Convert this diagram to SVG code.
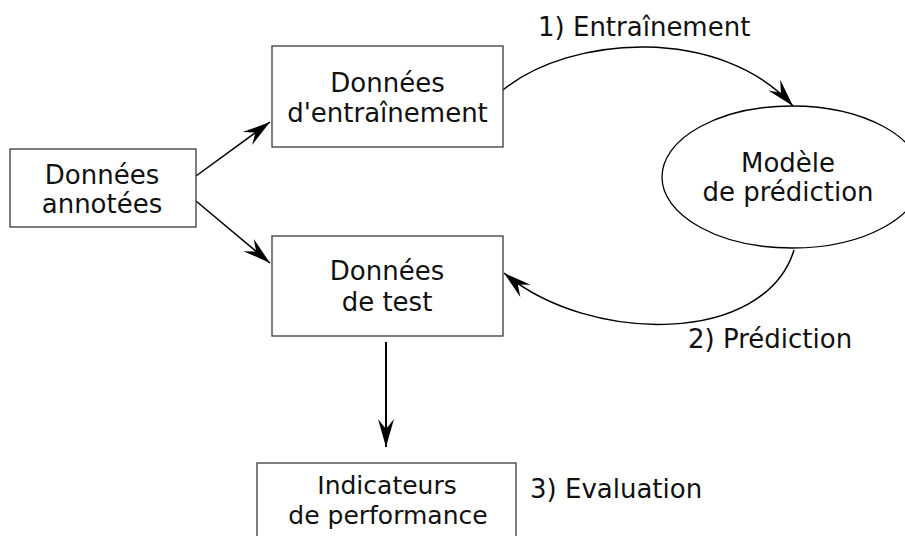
<svg xmlns="http://www.w3.org/2000/svg" width="905" height="536" viewBox="0 0 905 536">
  <defs>
    <style>
      .box { fill: #ffffff; stroke: #3a3a3a; stroke-width: 1.3; }
      .lbl { font-family: "DejaVu Sans", "Liberation Sans", sans-serif; font-size: 26px; fill: #111111; text-anchor: middle; }
      .note { font-family: "DejaVu Sans", "Liberation Sans", sans-serif; font-size: 26px; fill: #111111; }
      .edge { fill: none; stroke: #000000; stroke-width: 1.5; marker-end: url(#head); }
    </style>
    <marker id="head" markerUnits="userSpaceOnUse" viewBox="-30 -9 32 18" refX="0" refY="0" markerWidth="32" markerHeight="18" orient="auto">
      <path d="M0,0 L-28,-8 L-18,0 L-28,8 Z" fill="#000000"/>
    </marker>
  </defs>

  <g id="connectors">
    <path class="edge" d="M196,176 L270,122"/>
    <path class="edge" d="M196,201 L270,263"/>
    <path class="edge" d="M503,90 C570,35 720,25 793,106"/>
    <path class="edge" d="M794,250 C765,345 590,345 504,273"/>
    <path class="edge" style="stroke-width:2" d="M386,342 L386,447"/>
  </g>

  <g id="annotated-data">
    <rect class="box" x="10" y="149" width="186" height="78"/>
    <text class="lbl" x="102" y="184">Données</text>
    <text class="lbl" x="102" y="213">annotées</text>
  </g>

  <g id="training-data">
    <rect class="box" x="272" y="46" width="231" height="101"/>
    <text class="lbl" x="387.5" y="92">Données</text>
    <text class="lbl" x="387.5" y="122">d'entraînement</text>
  </g>

  <g id="test-data">
    <rect class="box" x="272" y="236" width="231" height="100"/>
    <text class="lbl" x="387" y="280">Données</text>
    <text class="lbl" x="387" y="311">de test</text>
  </g>

  <g id="model">
    <ellipse cx="792" cy="177" rx="130" ry="71" fill="#ffffff" stroke="#000000" stroke-width="1.3"/>
    <text class="lbl" x="788" y="172">Modèle</text>
    <text class="lbl" x="788" y="201">de prédiction</text>
  </g>

  <g id="metrics">
    <rect class="box" x="257" y="463" width="259" height="90"/>
    <text class="lbl" x="387" y="494" style="font-size:25px">Indicateurs</text>
    <text class="lbl" x="388" y="523.5" style="font-size:25px">de performance</text>
  </g>

  <g id="step-labels">
    <text class="note" x="538" y="36">1) Entraînement</text>
    <text class="note" x="688" y="348">2) Prédiction</text>
    <text class="note" x="530" y="498">3) Evaluation</text>
  </g>
</svg>
